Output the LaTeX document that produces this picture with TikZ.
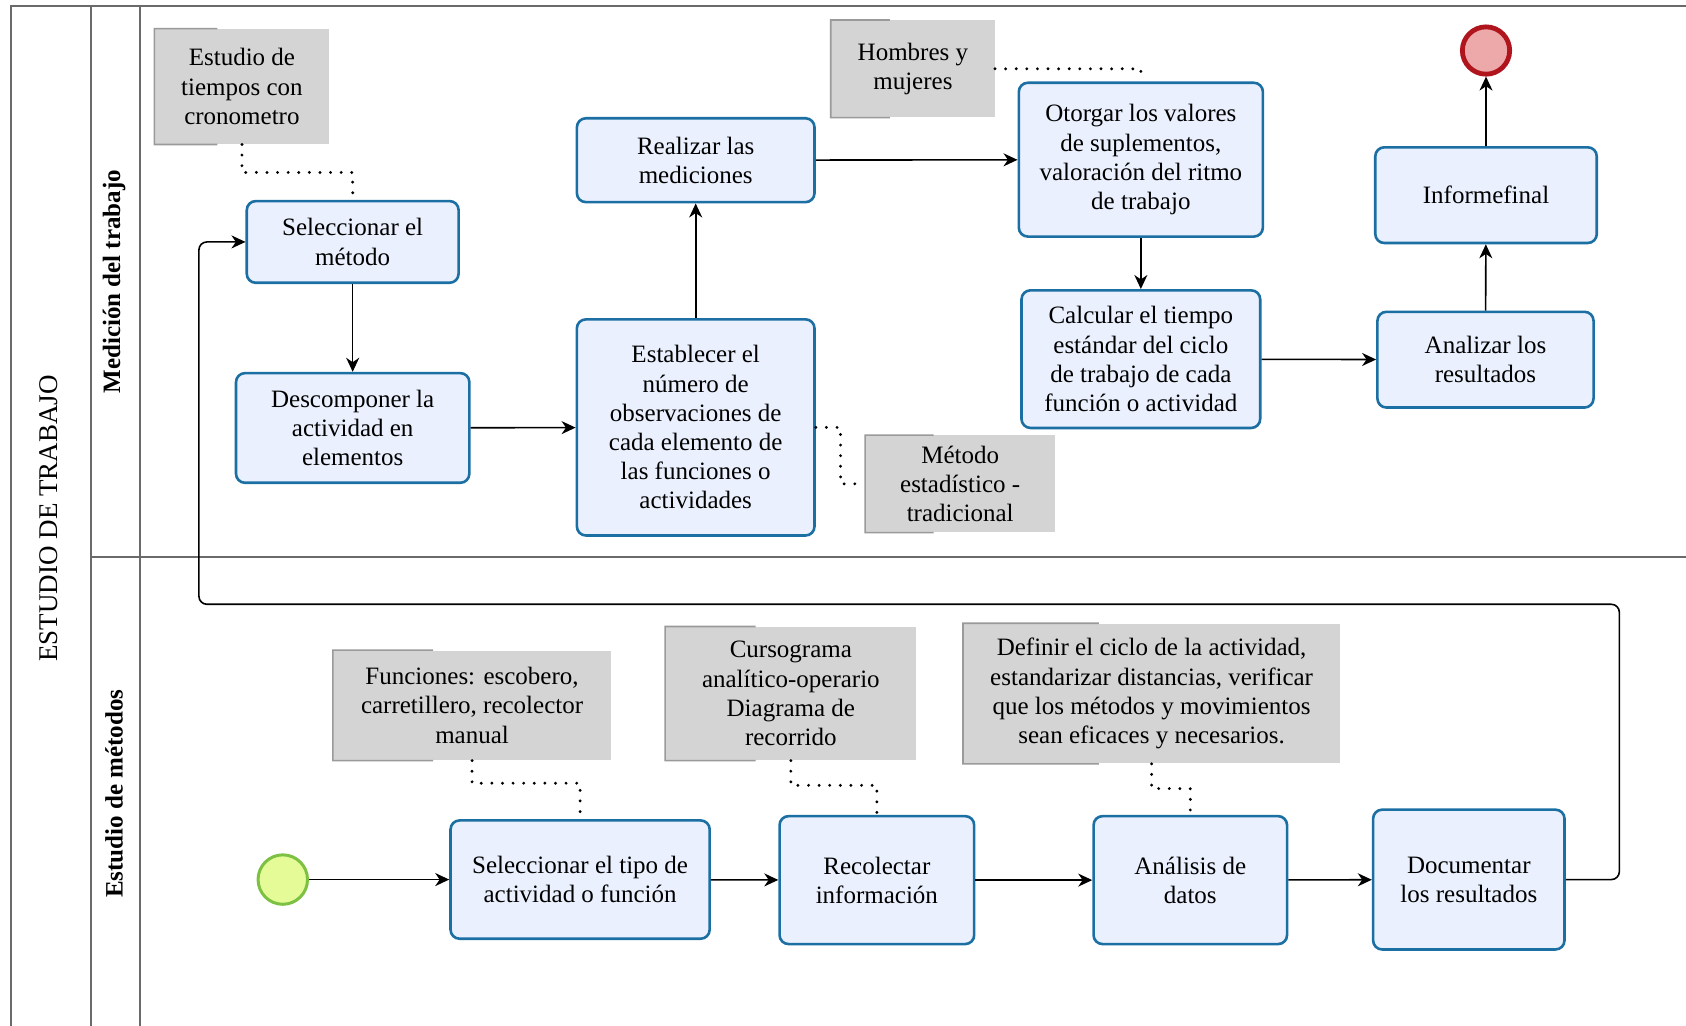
\documentclass[tikz,border=0pt]{standalone}
\usepackage{fontspec}
\setmainfont{Liberation Serif}
\usetikzlibrary{arrows.meta,calc}
\def\uu{0.5376pt}
\definecolor{taskfill}{HTML}{EAF0FD}
\definecolor{taskline}{HTML}{1B6FA3}
\definecolor{notefill}{HTML}{D4D4D4}
\definecolor{noteedge}{HTML}{9A9A9A}
\definecolor{poolline}{HTML}{6A6A6A}
\definecolor{startfill}{HTML}{E4FB98}
\definecolor{startline}{HTML}{7CC142}
\definecolor{endfill}{HTML}{EDA9AA}
\definecolor{endline}{HTML}{B0141C}
\begin{document}
\begin{tikzpicture}[x=\uu, y=-\uu,
  txt/.style={font=\fontsize{12.5}{14.6}\selectfont},
  wh/.style 2 args={minimum width={#1*\uu}, minimum height={#2*\uu}},
  task/.style={txt, draw=taskline, fill=taskfill, line width=1.3pt,
    rounded corners=4.5pt, align=center, inner sep=0pt},
  note/.style={txt, fill=notefill, align=center, inner sep=0pt},
  bracket/.style={draw=noteedge, line width=0.8pt},
  flow/.style={draw=black, line width=0.8pt,
    -{Stealth[length=7pt,width=6.5pt,inset=2.2pt]}},
  assoc/.style={draw=black, line width=1.6pt, line cap=round,
    dash pattern=on 0pt off 5.3pt},
  pool/.style={draw=poolline, line width=1pt},
  lane/.style={rotate=90, font=\fontsize{12.5}{14.6}\selectfont\bfseries},
]
\useasboundingbox (0,0) rectangle (1568,954);

% pool and lanes
\draw[pool] (10,954) -- (10,6) -- (1568,6);
\draw[pool] (85,6) -- (85,954);
\draw[pool] (130,6) -- (130,954);
\draw[pool] (85,518) -- (1568,518);
\node[rotate=90, font=\fontsize{13.5}{16}\selectfont] (title) at (45,482) {ESTUDIO DE TRABAJO};
\node[lane] (lane1) at (106,262) {Medición del trabajo};
\node[lane] (lane2) at (106,738) {Estudio de métodos};

% lane: medicion del trabajo
\node[task, wh={197}{76}] (b1) at (328,225) {Seleccionar el\\método};
\node[task, wh={217}{102}] (b2) at (328,398) {Descomponer la\\actividad en\\elementos};
\node[task, wh={221}{201}] (b3) at (647,397.5) {Establecer el\\número de\\observaciones de\\cada elemento de\\las funciones o\\actividades};
\node[task, wh={221}{78}] (b4) at (647,149) {Realizar las\\mediciones};
\node[task, wh={227}{143}] (b5) at (1061,148.5) {Otorgar los valores\\de suplementos,\\valoración del ritmo\\de trabajo};
\node[task, wh={222}{128}] (b6) at (1061,334) {Calcular el tiempo\\estándar del ciclo\\de trabajo de cada\\función o actividad};
\node[task, wh={201}{89}] (b7) at (1381.5,334.5) {Analizar los\\resultados};
\node[task, wh={206}{89}] (b8) at (1382,181.5) {Informefinal};
\node[circle, draw=endline, fill=endfill, line width=2.4pt, inner sep=0pt,
  minimum size={44*\uu}] (end) at (1382,47) {};

% lane: estudio de metodos
\node[circle, draw=startline, fill=startfill, line width=1.5pt, inner sep=0pt,
  minimum size={46*\uu}] (start) at (263,818) {};
\node[task, wh={241}{110}] (b9) at (539.5,818) {Seleccionar el tipo de\\actividad o función};
\node[task, wh={181}{119}] (b10) at (815.5,818.5) {Recolectar\\información};
\node[task, wh={180}{119}] (b11) at (1107,818.5) {Análisis de\\datos};
\node[task, wh={178}{130}] (b12) at (1366,818) {Documentar\\los resultados};

% annotations
\node[note, wh={162}{107}] (a1) at (225,80.5) {Estudio de\\tiempos con\\cronometro};
\node[note, wh={152}{90}] (a2) at (849,64) {Hombres y\\mujeres};
\node[note, wh={176}{90}] (a3) at (893,450) {Método\\estadístico -\\tradicional};
\node[note, wh={258}{102}] (a4) at (439,656) {Funciones: escobero,\\carretillero, recolector\\manual};
\node[note, wh={233}{124}] (a5) at (735.5,645) {Cursograma\\analítico-operario\\Diagrama de\\recorrido};
\node[note, wh={350}{130}] (a6) at (1071,645) {Definir el ciclo de la actividad,\\estandarizar distancias, verificar\\que los métodos y movimientos\\sean eficaces y necesarios.};
\foreach \n in {a1,a2,a3,a4,a5,a6}
  \draw[bracket] ($(\n.north west)!0.36!(\n.north east)$) -- (\n.north west)
    -- (\n.south west) -- ($(\n.south west)!0.36!(\n.south east)$);

% sequence flows
\draw[flow] (b1) -- (b2);
\draw[flow] (b2) -- (b3);
\draw[flow] (b3) -- (b4);
\draw[flow] (b4) -- (b5);
\draw[flow] (b5) -- (b6);
\draw[flow] (b6) -- (b7);
\draw[flow] (b7) -- (b8);
\draw[flow] (b8) -- (end);
\draw[flow] (start) -- (b9);
\draw[flow] (b9) -- (b10);
\draw[flow] (b10) -- (b11);
\draw[flow] (b11) -- (b12);
\coordinate (loopR) at (1506,562);
\coordinate (loopL) at (185,562);
\draw[flow, rounded corners=4pt] (b12.east) -| (loopR) -- (loopL) |- (b1.west);

% associations
\draw[assoc] (a1.south) -- ++(0,26) -| (b1.north);
\draw[assoc] (a2.east) -| (b5.north);
\draw[assoc] (b3.east) -- ++(23,0) |- (a3.west);
\draw[assoc] (a4.south) -- ++(0,21) -| (b9.north);
\draw[assoc] (a5.south) -- ++(0,23) -| (b10.north);
\draw[assoc] (a6.south) -- ++(0,23) -| (b11.north);
\end{tikzpicture}
\end{document}
